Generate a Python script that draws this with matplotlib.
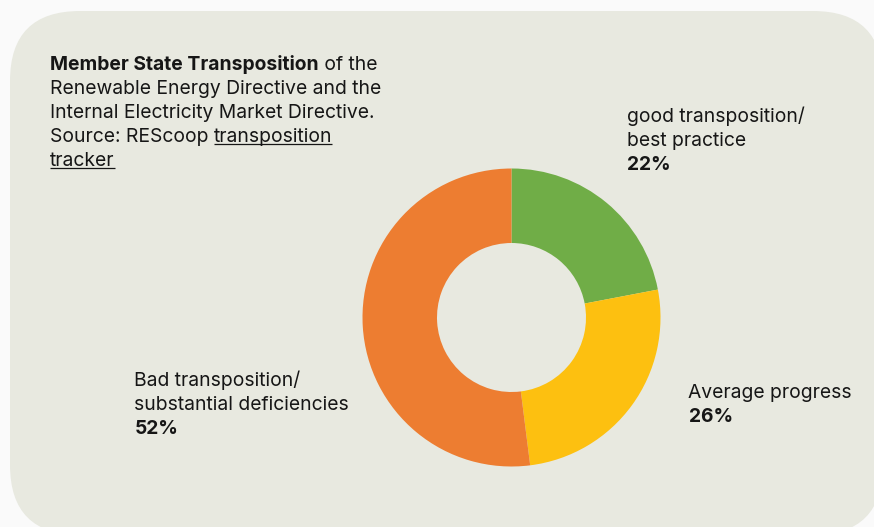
import matplotlib
matplotlib.use("Agg")
import matplotlib.pyplot as plt
from matplotlib.patches import FancyBboxPatch

# Data
categories = ["good transposition/\nbest practice", "Average progress",
              "Bad transposition/\nsubstantial deficiencies"]
shares = [22, 26, 52]
colors = ["#70AD47", "#FDC010", "#ED7D31"]

plt.rcParams["font.family"] = ["Inter", "DejaVu Sans"]
FS = 13.9
TXT = "#161616"
BOX = "#E8E9E0"

fig = plt.figure(figsize=(8.74, 5.27), dpi=100)
fig.patch.set_facecolor("#FAFAFA")

# full-figure axes in pixel coordinates
ax = fig.add_axes([0, 0, 1, 1])
ax.set_xlim(0, 874)
ax.set_ylim(527, 0)
ax.axis("off")

box = FancyBboxPatch((10, 11), 873, 524, boxstyle="round,pad=0,rounding_size=70",
                     facecolor=BOX, edgecolor="none")
ax.add_patch(box)

# donut
pax = fig.add_axes([(511.5 - 149) / 874, (527 - 317.5 - 149) / 527, 298 / 874, 298 / 527])
pax.pie(shares, colors=colors, startangle=90, counterclock=False, radius=1,
        wedgeprops=dict(width=0.5, edgecolor="none"))
pax.set_xlim(-1, 1)
pax.set_ylim(-1, 1)
pax.axis("off")

renderer = fig.canvas.get_renderer()
inv = ax.transData.inverted()


def put(x, y, s, bold=False, underline=False):
    t = ax.text(x, y, s, fontsize=FS, color=TXT, va="baseline", ha="left",
                fontweight="bold" if bold else "normal")
    bb = t.get_window_extent(renderer)
    x1 = inv.transform((bb.x1, bb.y0))[0]
    if underline:
        ax.plot([x, x1], [y + 2.8, y + 2.8], color=TXT, lw=0.9, solid_capstyle="butt")
    return x1


# title block
x0 = 50
xe = put(x0, 69.5, "Member State Transposition", bold=True)
put(xe, 69.5, " of the")
put(x0, 93.5, "Renewable Energy Directive and the")
put(x0, 117.5, "Internal Electricity Market Directive.")
xe = put(x0, 141.5, "Source: REScoop ")
put(xe, 141.5, "transposition", underline=True)
put(x0, 165.5, "tracker", underline=True)

# slice labels
label_pos = [(627, 122), (688.5, 397.5), (134.5, 386.5)]
for (lx, ly), cat, val in zip(label_pos, categories, shares):
    lines = cat.split("\n")
    for i, line in enumerate(lines):
        put(lx, ly + 24 * i, line)
    put(lx, ly + 24 * len(lines), f"{val}%", bold=True)

fig.savefig("out.png", dpi=100, facecolor=fig.get_facecolor())
